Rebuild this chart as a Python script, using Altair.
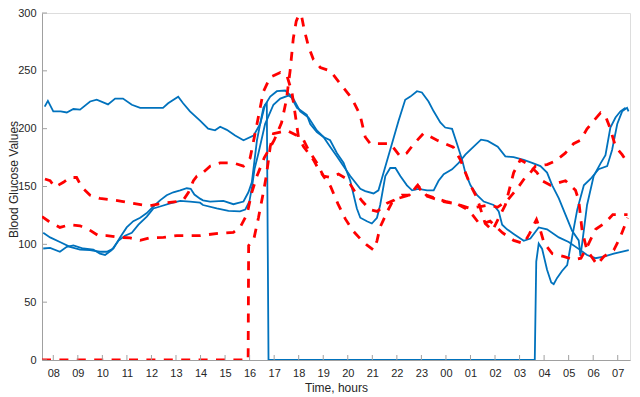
import altair as alt
import pandas as pd

# ---- data (hours since midnight of day 1; values mg/dL) ----
blueA_t = [7.65, 7.78, 8.0, 8.3, 8.55, 8.82, 9.09, 9.5, 9.77, 10.23, 10.52, 10.84, 11.2, 11.54, 12.0, 12.47, 12.68, 13.09, 13.29, 13.57, 13.98, 14.31, 14.59, 14.8, 15.07, 15.41, 15.75, 16.16, 16.43, 16.63, 16.7, 16.77,
           27.62, 27.68, 27.78, 27.92, 28.12, 28.29, 28.39, 28.53, 28.73, 28.94, 29.14, 29.35, 29.62, 29.89, 30.22, 30.57, 30.77, 30.98, 31.18, 31.38, 31.44]
blueA_v = [219, 224, 215, 215, 214, 217, 216.5, 223.5, 225, 221, 226, 226, 220.7, 218, 218, 218, 222, 227.7, 222, 215, 207, 200, 198.6, 201.7, 199, 194, 190, 194, 204, 220.7, 222, 0,
           0, 85, 100.6, 96, 78, 67, 65.6, 71, 77, 82, 106, 130, 151, 156.5, 165, 167.6, 181.6, 204, 215, 218, 215]

blueB_t = [7.59, 7.87, 8.27, 8.68, 9.09, 9.5, 9.9, 10.18, 10.45, 10.72, 10.99, 11.26, 11.54, 11.81, 12.08, 12.35, 12.62, 12.89, 13.17, 13.44, 13.6, 13.75, 13.98, 14.1, 14.39, 14.93, 15.34, 15.75, 15.95, 16.09,
           16.3, 16.56, 16.84, 17.11, 17.45, 17.65, 17.93, 18.33, 18.47, 18.74, 19.01, 19.28, 19.56, 19.83, 20.1, 20.51, 20.71, 21.05, 21.25, 21.46, 21.8, 22.07, 22.34, 22.55, 22.82, 23.02, 23.29, 23.5, 23.77, 23.97,
           24.25, 24.45, 24.66, 24.79, 25.0, 25.27, 25.54, 25.94, 26.15, 26.29, 26.49, 26.76, 27.17, 27.44, 27.78, 28.12, 28.6, 29.0, 29.48, 29.75, 30.09, 30.43, 30.84, 31.45]
blueB_v = [110, 106, 102, 97.8, 95.5, 95, 93.6, 93.6, 96.4, 106, 114.6, 120, 123, 127, 132.7, 138, 142.5, 145, 146.7, 148.5, 148, 143, 139.5, 138, 137, 137.5, 134.7, 137, 145, 153.6,
           190, 218, 227.7, 232.4, 233, 229, 218, 212, 204, 197, 192.8, 184.4, 176, 167.6, 159, 148, 146, 144, 146.7, 162, 187, 206.8, 225, 227.7, 232.4, 231.3, 223.5, 215, 205.4, 201,
           199.8, 187, 173, 162, 151, 142.5, 137, 134, 128.5, 117, 113, 109, 103, 105, 114.6, 113, 106, 102, 95, 90.8, 88, 89.4, 92, 95]

blueC_t = [7.59, 7.87, 8.27, 8.55, 8.82, 9.22, 9.63, 9.9, 10.11, 10.38, 10.65, 10.92, 11.2, 11.47, 11.81, 12.08, 12.35, 12.76, 13.17, 13.57, 13.98, 14.1, 14.66, 15.14, 15.61, 15.82, 15.99, 16.1, 16.2,
           16.36, 16.63, 16.97, 17.25, 17.58, 17.78, 18.06, 18.4, 18.74, 19.01, 19.28, 19.56, 19.83, 20.1, 20.37, 20.51, 20.78, 20.98, 21.19, 21.32, 21.53, 21.73, 21.94, 22.14, 22.41, 22.62, 22.88, 23.23, 23.5,
           23.7, 23.91, 24.25, 24.52, 24.79, 25.13, 25.43, 25.7, 26.11, 26.42, 26.76, 27.17, 27.51, 27.85, 28.12, 28.33, 28.6, 28.87, 29.14, 29.41, 29.48, 29.55, 29.75, 30.02, 30.3, 30.5, 30.7, 30.91, 31.11, 31.32]
blueC_v = [96.4, 97, 93.6, 97.8, 99, 96.4, 95.5, 92, 90.8, 95, 103, 107.5, 110, 117, 124, 131, 132.7, 135.5, 137.5, 137, 136, 134, 131, 129, 128.5, 130, 137, 150, 165,
           178.8, 204, 220.7, 226, 228.6, 226, 215, 209.6, 198.4, 192.8, 190, 178.8, 170.4, 155, 131, 123, 120, 118, 123, 134, 159, 166, 166, 159, 151, 146.7, 148, 146.7, 146.7,
           155, 160.7, 164.8, 170.4, 177.5, 184.4, 190.5, 189.4, 184.4, 176, 175.4, 173, 170.4, 167.6, 162, 151, 139.7, 125.7, 111.7, 103.4, 90, 100.6, 134, 159, 170, 177, 201, 209.6, 215, 218]

red1_t = [7.66, 7.87, 8.07, 8.41, 8.68, 8.95, 9.16, 9.5, 9.9, 10.45, 10.85, 11.26, 11.67, 11.94, 12.49, 13.03, 13.3, 13.51, 13.71, 13.85, 14.0, 14.39, 14.8, 15.34, 15.75, 16.02, 16.3, 16.56, 16.84, 17.25, 17.52, 17.72, 17.86, 17.99,
          18.2, 18.4, 18.6, 18.81, 19.01, 19.28, 19.62, 19.97, 20.3, 20.6, 20.9, 21.2, 21.6, 21.9, 22.2, 22.5, 22.85, 23.1, 23.5, 23.9, 24.3, 24.7, 25.0, 25.4, 25.8, 26.1, 26.5, 26.9, 27.2, 27.44, 27.65, 28.12, 28.45,
          28.86, 29.2, 29.48, 29.75, 30.02, 30.3, 30.5, 30.7, 30.91, 31.18, 31.45]
red1_v = [156.5, 155, 149.5, 153.6, 157.8, 157.8, 149.5, 142.5, 139.7, 138.3, 137, 135.5, 134, 133.5, 135.5, 137, 138.3, 145, 155, 159, 160, 167.6, 170.4, 170.4, 167.6, 174.6, 204, 232, 244.5, 248.6, 245.8, 232, 212, 192.8,
          184.4, 178.8, 173, 165, 159, 157.8, 160.7, 156.5, 145, 137, 130, 128.5, 135.5, 138.3, 142.5, 142.5, 151, 142.5, 139.7, 137, 135.5, 133, 131, 132.7, 134, 132, 138, 148, 157, 162, 167.6, 169, 172,
          178.8, 187, 190, 199.8, 206.8, 213.7, 211, 199.8, 184.4, 177.5, 169]

red2_t = [7.54, 7.81, 8.27, 8.68, 9.09, 9.43, 9.84, 10.18, 10.72, 11.13, 11.54, 11.94, 12.49, 13.03, 13.44, 13.98, 14.3, 14.8, 15.34, 15.61, 15.89, 16.09, 16.3, 16.6, 17.0, 17.3, 17.5, 17.65, 17.78, 17.9, 18.02, 18.12, 18.22, 18.4,
          18.6, 18.88, 19.28, 19.69, 20.17, 20.5, 20.71, 20.92, 21.73, 22.14, 22.4, 22.7, 23.09, 23.64, 23.97, 24.3, 24.59, 25.0, 25.27, 25.6, 25.9, 26.2, 26.42, 26.76, 27.03, 27.37, 27.71, 27.92, 28.26, 28.87, 29.28,
          29.41, 29.55, 29.68, 29.75, 30.16, 30.43, 30.84, 31.1, 31.3, 31.4]
red2_v = [124, 120, 114.6, 117, 116, 113, 107.5, 107.5, 106, 105.6, 103.4, 105.6, 106, 107.5, 107.5, 107.5, 108.4, 109.6, 110.4, 114.6, 125.7, 145, 159, 175, 190, 205, 225, 250, 278, 293, 299, 297, 286, 271,
          259.8, 252.9, 250, 239, 226, 212, 192.8, 187, 187, 176, 178.8, 187, 196, 190, 187, 184, 173, 151, 140, 118, 112, 125, 134, 162, 173, 169, 162, 155, 151, 155, 146.7,
          138, 111.7, 100.6, 95, 82.4, 89.4, 95, 106, 117, 123]

red3_t = [7.54, 15.94, 15.96, 16.16, 16.36, 16.56, 16.68, 16.84, 16.97, 17.25, 17.52, 17.93, 18.2, 18.4, 18.74, 19.01, 19.3, 19.6, 19.9, 20.2, 20.5, 20.8, 21.05, 21.19, 21.32, 21.45, 21.6, 21.8, 22.1, 22.5, 22.85,
          23.2, 23.6, 24.0, 24.4, 24.8, 25.1, 25.39, 25.8, 26.3, 26.76, 27.17, 27.4, 27.69, 27.85, 28.0, 28.33, 28.82, 29.2, 29.5, 29.75, 30.1, 30.5, 30.8, 31.4]
red3_v = [0, 0, 99, 103.4, 123, 145, 159, 184.4, 195.6, 197, 198.4, 194, 190, 181.6, 170.4, 159, 150, 135, 122, 112, 105, 99, 95, 103, 115, 121, 128, 136, 140, 142.5, 151,
          142.5, 139.7, 137, 135.5, 131, 125, 117, 120, 110, 103.4, 100.6, 109, 121.5, 112, 101, 92, 89.4, 86.6, 88, 97.8, 113, 118.8, 125.7, 125.7]

y_ticks = [0, 50, 100, 150, 200, 250, 300]
x_ticks = list(range(8, 32))

series = [
    ("b1", "blue", blueA_t, blueA_v),
    ("b2", "blue", blueB_t, blueB_v),
    ("b3", "blue", blueC_t, blueC_v),
    ("r1", "red", red1_t, red1_v),
    ("r2", "red", red2_t, red2_v),
    ("r3", "red", red3_t, red3_v),
]

rows = []
for sid, kind, ts, vs in series:
    for i, (t, v) in enumerate(zip(ts, vs)):
        rows.append({"series": sid, "kind": kind, "t": t, "v": v, "order": i})
df = pd.DataFrame(rows)

W, H = 588, 347
FONT = "Liberation Sans"
xscale = alt.Scale(domain=[7.54, 31.5], nice=False, zero=False)
yscale = alt.Scale(domain=[0, 300], nice=False)

x_axis = alt.Axis(values=x_ticks,
                  labelExpr="(datum.value % 24) < 10 ? '0' + (datum.value % 24) : '' + (datum.value % 24)",
                  labelOverlap=False, labelFlush=False,
                  title="Time, hours", tickSize=0, grid=False, domainColor="#a0a0a0", domainWidth=1,
                  labelColor="#262626", labelFontSize=11, titleFontSize=12, titleColor="#262626",
                  labelPadding=7, titlePadding=4, titleFont=FONT, labelFont=FONT, titleFontWeight="normal")
y_axis = alt.Axis(values=y_ticks, title="Blood Glucose Values", tickSize=0, grid=False,
                  domainColor="#a0a0a0", domainWidth=1, labelColor="#262626", labelFontSize=11,
                  labelPadding=6, labelOverlap=False,
                  titleFontSize=12, titleColor="#262626", titleFont=FONT, labelFont=FONT,
                  titleFontWeight="normal", titleAngle=270, titleAlign="center",
                  titleBaseline="alphabetic", titleX=-25, titleY=166)

X = alt.X("t:Q", scale=xscale, axis=x_axis)
Y = alt.Y("v:Q", scale=yscale, axis=y_axis)

blue = alt.Chart(df[df.kind == "blue"]).mark_line(color="#0072BD", strokeWidth=1.8, clip=True).encode(
    x=X, y=Y, detail="series:N", order="order:Q",
)
red = alt.Chart(df[df.kind == "red"]).mark_line(color="#FF0000", strokeWidth=2.8, strokeDash=[9, 8.4], clip=True).encode(
    x=X, y=Y, detail="series:N", order="order:Q",
)
xticks = alt.Chart(pd.DataFrame({"t": x_ticks})).mark_rule(color="#a0a0a0", strokeWidth=1).encode(
    x=X,
    y=alt.value(H),
    y2=alt.value(H - 5),
)
yticks = alt.Chart(pd.DataFrame({"v": y_ticks})).mark_rule(color="#a0a0a0", strokeWidth=1).encode(
    y=Y,
    x=alt.value(0),
    x2=alt.value(5),
)

chart = alt.layer(blue, red, xticks, yticks).properties(
    width=W, height=H,
    autosize=alt.AutoSizeParams(type="none"),
    padding={"left": 34, "top": 5, "right": 2, "bottom": 37},
).configure_view(stroke=None).configure(background="white")

chart.save("out.html", embed_options={"renderer": "svg", "actions": False})
